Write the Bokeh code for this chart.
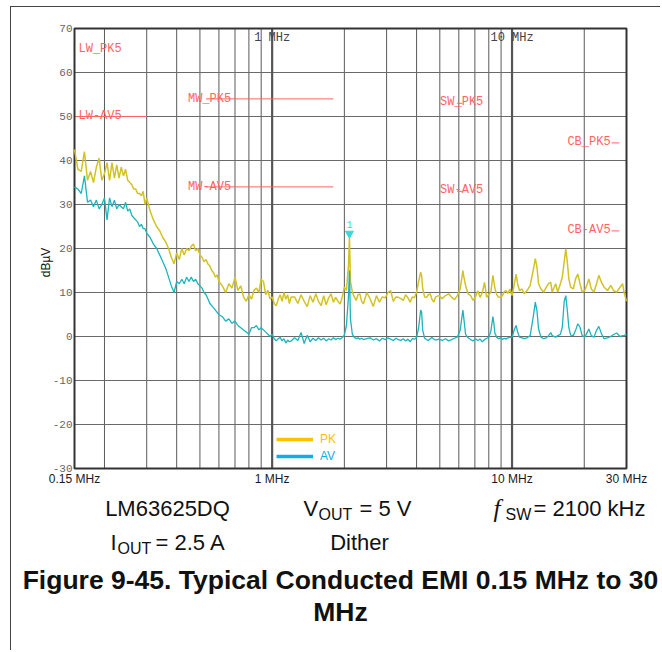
import math
from bokeh.plotting import figure
from bokeh.models import Range1d, Legend, LegendItem
from bokeh.core.properties import value
from bokeh.embed import file_html
from bokeh.resources import INLINE

# ---------------- data ----------------
freq_mhz = [
    0.150, 0.155, 0.160, 0.165, 0.170, 0.175, 0.180, 0.185, 0.190, 0.195, 0.200, 0.205, 0.210, 0.215, 0.220, 0.225,
    0.230, 0.235, 0.240, 0.245, 0.250, 0.255, 0.260, 0.265, 0.270, 0.275, 0.280, 0.285, 0.290, 0.295, 0.300,
    0.31, 0.32, 0.33, 0.34, 0.35, 0.36, 0.37, 0.38, 0.39, 0.40, 0.41, 0.42, 0.43, 0.44, 0.45,
    0.46, 0.47, 0.48, 0.49, 0.50, 0.51, 0.52, 0.53, 0.54, 0.55, 0.56, 0.57, 0.58, 0.59, 0.60,
    0.62, 0.64, 0.66, 0.68, 0.70, 0.72, 0.74, 0.76, 0.78, 0.80, 0.82, 0.84, 0.86, 0.88, 0.90,
    0.92, 0.94, 0.96, 0.98, 1.00, 1.02, 1.04, 1.06, 1.08, 1.10, 1.12, 1.14, 1.16, 1.18, 1.20,
    1.24, 1.28, 1.32, 1.36, 1.40, 1.44, 1.48, 1.52, 1.56, 1.60, 1.64, 1.68, 1.72, 1.76, 1.80,
    1.84, 1.88, 1.92, 1.96, 2.00, 2.04, 2.08, 2.10, 2.12, 2.16, 2.20, 2.24, 2.28, 2.32, 2.36, 2.40,
    2.48, 2.56, 2.64, 2.72, 2.80, 2.88, 2.96, 3.04, 3.12, 3.20, 3.28, 3.36, 3.44, 3.52, 3.60,
    3.68, 3.76, 3.84, 3.92, 4.00, 4.08, 4.16, 4.20, 4.24, 4.32, 4.40, 4.48, 4.56, 4.64, 4.72, 4.80,
    4.96, 5.12, 5.28, 5.44, 5.60, 5.76, 5.92, 6.08, 6.24, 6.30, 6.40, 6.56, 6.72, 6.88, 7.04, 7.20,
    7.36, 7.52, 7.68, 7.84, 8.00, 8.16, 8.32, 8.40, 8.48, 8.64, 8.80, 8.96, 9.12, 9.28, 9.44, 9.60,
    9.80, 10.0, 10.2, 10.4, 10.55, 10.75, 11.0, 11.25, 11.55, 11.9, 12.25, 12.5, 12.7, 12.9, 13.2, 13.55,
    13.9, 14.2, 14.5, 14.7, 15.2, 15.5, 15.9, 16.2, 16.5, 16.75, 17.0, 17.25, 17.55, 18.0, 18.4, 18.8,
    19.2, 19.6, 20.1, 20.6, 20.9, 21.4, 21.95, 22.5, 23.0, 23.6, 24.2, 25.0, 25.8, 26.5, 27.3, 28.2,
    28.9, 29.3, 29.8, 30.0,
]

pk_dbuv = [
    42.5, 38.0, 37.5, 42.0, 35.5, 37.5, 35.0, 38.5, 40.5, 35.5, 37.0, 39.5, 35.5, 39.5, 36.0, 39.0,
    36.0, 38.5, 36.5, 38.0, 35.5, 35.0, 34.5, 33.5, 33.5, 32.5, 32.5, 32.0, 33.0, 30.0, 31.5,
    28.5, 26.5, 25.0, 24.0, 22.5, 21.5, 20.0, 18.0, 16.5, 19.0, 17.5, 20.0, 18.5, 20.0, 19.5,
    20.5, 21.0, 19.5, 20.0, 18.5, 18.0, 17.0, 17.5, 16.5, 16.0, 15.0, 14.5, 13.5, 14.0, 12.5,
    11.5, 10.0, 12.0, 11.0, 13.5, 10.5, 11.5, 9.0, 8.0, 9.5, 8.5, 10.5, 11.0, 10.0, 13.0,
    12.5, 9.5, 10.5, 8.5, 9.0, 7.5, 7.0, 8.5, 9.5, 8.0, 10.0, 8.5, 9.5, 7.5, 9.0,
    9.0, 7.5, 9.5, 8.0, 6.8, 9.3, 7.8, 9.7, 8.0, 7.0, 9.3, 7.2, 8.8, 9.7, 7.8,
    8.9, 8.0, 7.4, 9.0, 11.2, 10.5, 16.0, 22.6, 12.5, 10.1, 9.0, 8.2, 9.5, 9.7, 8.0, 7.4,
    10.0, 8.6, 6.8, 9.3, 7.8, 9.0, 8.8, 10.0, 10.4, 8.0, 9.0, 8.9, 8.6, 8.2, 9.5,
    8.8, 7.8, 9.0, 8.8, 10.1, 12.5, 14.6, 13.8, 11.0, 9.0, 8.9, 9.5, 9.7, 8.4, 7.8, 9.0,
    9.3, 8.6, 9.3, 9.7, 8.9, 8.4, 9.3, 10.8, 15.0, 13.5, 11.6, 9.7, 9.3, 8.2, 9.0, 10.4,
    8.9, 10.0, 12.3, 8.9, 9.5, 10.1, 13.9, 12.5, 11.0, 9.5, 8.9, 9.0, 9.3, 10.2, 10.45, 9.8,
    10.8, 9.3, 11.6, 14.2, 12.0, 10.45, 10.8, 9.7, 10.45, 11.6, 15.0, 17.7, 15.8, 12.0, 10.8, 10.1,
    11.2, 12.0, 12.3, 10.1, 12.0, 10.1, 12.0, 13.5, 17.0, 19.9, 16.9, 13.1, 11.2, 10.8, 13.1, 14.2,
    12.0, 10.1, 10.45, 12.0, 13.1, 10.8, 10.1, 12.0, 13.9, 12.3, 11.2, 10.45, 11.6, 10.45, 10.1, 11.2,
    12.0, 10.1, 8.6, 8.0,
]

av_dbuv = [
    34.0, 33.5, 32.5, 36.5, 30.5, 31.0, 29.5, 31.0, 29.0, 30.0, 31.5, 26.5, 31.5, 29.5, 31.0, 29.0,
    30.0, 29.5, 29.0, 30.5, 28.5, 29.0, 27.5, 27.0, 26.5, 26.0, 25.0, 25.5, 24.5, 24.5, 23.5,
    22.5, 21.0, 20.0, 18.5, 17.0, 15.5, 13.5, 11.5, 10.0, 12.5, 12.0, 13.0, 12.0, 13.5, 12.5,
    13.5, 12.5, 13.0, 12.0, 11.5, 11.0, 10.0, 9.5, 8.5, 7.5, 7.0, 6.5, 6.0, 5.5, 5.0,
    4.5, 3.5, 4.0, 3.0, 3.5, 2.5, 2.0, 1.5, 1.0, 0.5, 2.0, 2.0, 2.5, 1.5, 2.0,
    1.5, 1.0, 0.5, 0.0, 0.5, -0.5, -1.0, -0.5, -0.2, -1.0, -0.5, -1.5, -0.8, -1.2, -1.0,
    -0.3, -0.9, 0.9, -1.6, 0.3, -1.2, -0.4, -0.9, -0.3, -0.8, -0.4, -1.0, -0.5, -0.8, -0.3,
    -0.7, -0.4, -0.6, -0.2, 0.3, 2.5, 9.0, 15.0, 4.0, 0.5, -0.2, -0.5, -0.3, -0.6, -0.4, -0.7,
    -0.5, -0.3, -0.8, -0.5, -1.0, -0.4, -0.7, -0.3, -0.6, -0.9, -0.4, -0.7, -0.9, -0.5, -1.0,
    -0.6, -1.2, -0.5, -0.6, -0.2, 2.0, 6.0, 5.5, 1.5, -0.4, -0.7, -0.9, -0.5, -0.2, -0.6, -0.8,
    -0.6, -0.9, -0.5, -1.0, -0.7, -0.4, -0.1, 1.5, 6.0, 4.0, 0.5, -0.3, -0.7, -1.0, -0.5, -0.9,
    -0.6, -1.2, -0.7, -0.4, -0.2, 1.2, 4.5, 3.0, 0.8, -0.2, -0.5, -0.3, -0.7, -0.4, -0.6, -0.3,
    -0.2, -0.15, 1.4, 2.5, 1.0, -0.15, -0.3, -0.5, -0.3, 0.2, 4.4, 7.8, 5.9, 1.7, -0.15, -0.5,
    -0.3, 0.2, 0.9, 0.2, -0.15, 0.2, 0.5, 2.1, 8.0, 9.3, 5.9, 2.0, 0.3, 0.2, 1.4, 2.9,
    2.1, 0.2, -0.15, 1.0, 1.7, 0.2, -0.15, 1.4, 2.3, 0.6, -0.5, -0.3, 0.0, 0.45, 0.8, 0.0,
    0.2, 0.2, 0.45, 0.4,
]

# CISPR 25 class 5 limit lines
band_names = ["LW", "MW", "SW", "CB"]
band_start_mhz = [0.15, 0.53, 5.9, 26.0]
band_stop_mhz = [0.30, 1.8, 6.2, 28.0]
pk_limit_dbuv = [70, 54, 53, 44]
av_limit_dbuv = [50, 34, 33, 24]
pk_limit_labels = ["LW_PK5", "MW_PK5", "SW_PK5", "CB_PK5"]
av_limit_labels = ["LW-AV5", "MW-AV5", "SW-AV5", "CB-AV5"]

marker_freq_mhz = 2.10
marker_level_dbuv = 23.4
marker_label = "1"

y_ticks = [-30, -20, -10, 0, 10, 20, 30, 40, 50, 60, 70]
y_tick_labels = ["-30", "-20", "-10", "0", "10", "20", "30", "40", "50", "60", "70"]
x_ticks = [0.15, 1, 10, 30]
x_tick_labels = ["0.15 MHz", "1 MHz", "10 MHz", "30 MHz"]
x_grid_mhz = [0.2, 0.3, 0.4, 0.5, 0.6, 0.7, 0.8, 0.9, 2, 3, 4, 5, 6, 7, 8, 9, 20]
x_decade_mhz = [1, 10]
x_decade_labels = ["1 MHz", "10 MHz"]

X_MIN, X_MAX, Y_MIN, Y_MAX = 0.15, 30, -30, 70

# ---------------- page geometry (pixels) ----------------
CANVAS_L, CANVAS_T = 11, 7          # canvas origin on the page (after margin + 1px frame border)
W, H = 650, 644
CANVAS_R, CANVAS_B = CANVAS_L + W, CANVAS_T + H
PLOT_L, PLOT_R, PLOT_T, PLOT_B = 74, 626, 28, 468   # chart area on the page

LOG_PER_PX = (math.log10(X_MAX) - math.log10(X_MIN)) / (PLOT_R - PLOT_L)
DB_PER_PX = (Y_MAX - Y_MIN) / (PLOT_B - PLOT_T)

def data_x(px):
    return 10 ** (math.log10(X_MIN) + (px - PLOT_L) * LOG_PER_PX)

def data_y(py):
    return Y_MAX - (py - PLOT_T) * DB_PER_PX

# the figure's frame covers the whole canvas; the chart is drawn through the log/linear scales
p = figure(width=W, height=H, x_axis_type="log", x_axis_location=None, y_axis_location=None,
           x_range=Range1d(data_x(CANVAS_L), data_x(CANVAS_R)),
           y_range=Range1d(data_y(CANVAS_B), data_y(CANVAS_T)),
           output_backend="svg", toolbar_location=None, min_border=0)
p.grid.visible = False
p.outline_line_color = None
p.background_fill_color = "white"
p.border_fill_color = "white"
p.styles = {"border-left": "1px solid #444", "border-top": "1px solid #444",
            "margin-left": "10px", "margin-top": "6px"}

MONO = "Liberation Mono"
SANS = "Liberation Sans"

# grid
p.segment(x0=x_grid_mhz, x1=x_grid_mhz, y0=Y_MIN, y1=Y_MAX, line_color="#5a5a5a", line_width=1)
p.segment(x0=X_MIN, x1=X_MAX, y0=y_ticks, y1=y_ticks, line_color="#6a6a6a", line_width=1.2)
p.segment(x0=x_decade_mhz, x1=x_decade_mhz, y0=Y_MIN, y1=Y_MAX, line_color="#555555", line_width=2.2)

# axis tick labels
p.text(x=X_MIN, y=y_ticks, text=y_tick_labels, x_offset=-2,
       text_font=value(MONO), text_font_size="11px", text_color="#666666",
       text_align="right", text_baseline="middle")
p.text(x=x_ticks, y=Y_MIN, text=x_tick_labels, y_offset=3,
       text_font=value(SANS), text_font_size="12px", text_color="#1a1a1a",
       text_align="center", text_baseline="top")
p.text(x=[data_x(45)], y=[data_y(262)], text=["dB\u00b5V"], angle=math.pi / 2,
       text_font=value(SANS), text_font_size="12px", text_color="#111111",
       text_align="center", text_baseline="middle")

# decade labels at top of chart
p.text(x=x_decade_mhz, y=Y_MAX, text=x_decade_labels, y_offset=9,
       text_font=value(MONO), text_font_size="12px", text_color="#444444",
       text_align="center", text_baseline="middle")

# limit lines and their labels
RED = "#ff6464"
p.segment(x0=band_start_mhz, x1=band_stop_mhz, y0=pk_limit_dbuv, y1=pk_limit_dbuv,
          line_color=RED, line_width=1)
p.segment(x0=band_start_mhz, x1=band_stop_mhz, y0=av_limit_dbuv, y1=av_limit_dbuv,
          line_color=RED, line_width=1)
lx = band_start_mhz[:3]
p.text(x=lx, y=pk_limit_dbuv[:3], text=pk_limit_labels[:3],
       x_offset=[4, -18, -17], y_offset=[20, 0, -1],
       text_font=value(MONO), text_font_size="12px", text_color=RED,
       text_align="left", text_baseline="middle")
p.text(x=lx, y=av_limit_dbuv[:3], text=av_limit_labels[:3],
       x_offset=[4, -18, -17], y_offset=[-1, 0, -1],
       text_font=value(MONO), text_font_size="12px", text_color=RED,
       text_align="left", text_baseline="middle")
p.text(x=band_start_mhz[3:], y=pk_limit_dbuv[3:], text=pk_limit_labels[3:],
       x_offset=-1, y_offset=-1,
       text_font=value(MONO), text_font_size="12px", text_color=RED,
       text_align="right", text_baseline="middle")
p.text(x=band_start_mhz[3:], y=av_limit_dbuv[3:], text=av_limit_labels[3:],
       x_offset=-1, y_offset=-1,
       text_font=value(MONO), text_font_size="12px", text_color=RED,
       text_align="right", text_baseline="middle")

# chart frame
p.quad(left=X_MIN, right=X_MAX, bottom=Y_MIN, top=Y_MAX, fill_color=None,
       line_color="#333333", line_width=2)

# traces
p.line(freq_mhz, pk_dbuv, line_color="#d2c325", line_width=1.5)
p.line(freq_mhz, av_dbuv, line_color="#1db4bc", line_width=1.3)

# marker
p.scatter([marker_freq_mhz], [marker_level_dbuv], marker="inverted_triangle", size=8,
          fill_color="#38d8e2", line_color="#38d8e2")
p.text(x=[marker_freq_mhz], y=[marker_level_dbuv], text=[marker_label], y_offset=-9,
       text_font=value(MONO), text_font_size="10px", text_color="#38d8e2",
       text_align="center", text_baseline="middle")

# legend: two single-item legends so that each label has its own colour
NAN = float("nan")
leg_pk_r = p.line([NAN], [NAN], line_color="#ffc000", line_width=3.5)
leg_av_r = p.line([NAN], [NAN], line_color="#10aee6", line_width=3.5)
for r, lab, col, cy in ((leg_pk_r, "PK", "#ffc000", 439), (leg_av_r, "AV", "#10aee6", 456)):
    lg = Legend(items=[LegendItem(label=lab, renderers=[r])],
                location=(276 - CANVAS_L, CANVAS_B - (cy + 7)),
                glyph_width=37, glyph_height=14, label_height=14, label_standoff=7,
                padding=0, margin=0, spacing=0, border_line_color=None,
                background_fill_alpha=0, label_text_font=SANS, label_text_font_size="12px",
                label_text_color=col)
    p.add_layout(lg)

# ---------------- caption below the chart (page pixel positions, vertical centres) ----------------
def ctext(items, size, align="left", font=SANS, style="normal"):
    xs = [data_x(it[0]) for it in items]
    ys = [data_y(it[1]) for it in items]
    p.text(x=xs, y=ys, text=[it[2] for it in items], text_font=value(font),
           text_font_size=size, text_font_style=style, text_color="#111111",
           text_align=align, text_baseline="middle")

ROW1, ROW2, ROW3, ROW4 = 508, 542, 579, 611
SUB = 6
ctext([(167, ROW1, "LM63625DQ"), (359, ROW2, "Dither")], "22px", align="center")
ctext([(303, ROW1, "V"), (359, ROW1, "= 5 V"), (533, ROW1, "= 2100 kHz"),
       (110, ROW2, "I"), (155, ROW2, "= 2.5 A")], "22px")
ctext([(318, ROW1 + SUB, "OUT"), (505, ROW1 + SUB, "SW"), (117, ROW2 + SUB, "OUT")], "16px")
ctext([(493, ROW1, "f")], "25px", font="Liberation Serif", style="italic")
ctext([(340, ROW3, "Figure 9-45. Typical Conducted EMI 0.15 MHz to 30"), (340, ROW4, "MHz")],
      "26.5px", align="center", style="bold")

open("out.html", "w").write(file_html(p, INLINE))
